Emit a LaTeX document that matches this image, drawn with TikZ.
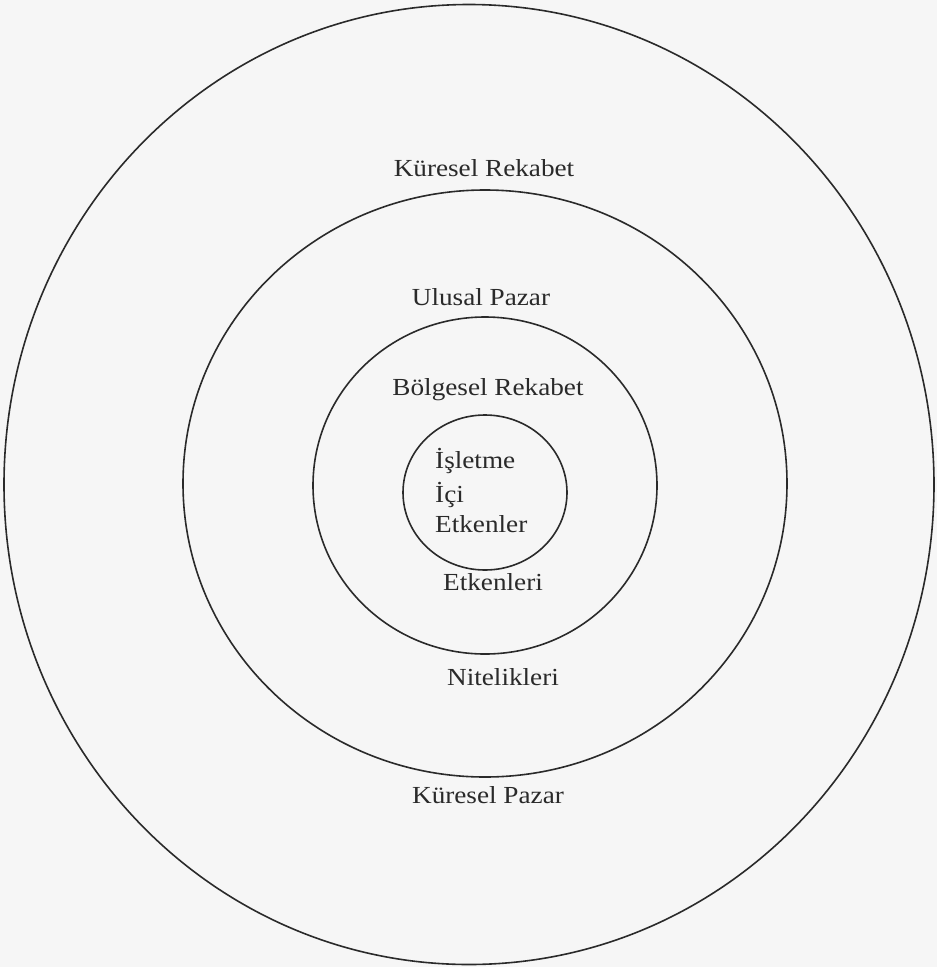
\documentclass[tikz,border=0pt]{standalone}
\usepackage{fontspec}
\setmainfont{Liberation Serif}[FakeStretch=1.11]
\definecolor{ink}{HTML}{2A2A2A}
\definecolor{paper}{HTML}{F6F6F6}
\begin{document}
\begin{tikzpicture}[x=1pt,y=-1pt,
  ring/.style={draw=ink,line width=1.6pt},
  lbl/.style={text=ink,inner sep=0pt,anchor=base,font=\fontsize{24.5}{28}\selectfont},
  lbll/.style={lbl,anchor=base west}]
\fill[paper] (0,0) rectangle (937,967);
\useasboundingbox (0,0) rectangle (937,967);
% rings
\draw[ring] (469,484.5) ellipse [x radius=465pt, y radius=480pt];
\draw[ring] (485,483.5) ellipse [x radius=302pt, y radius=293.5pt];
\draw[ring] (485,485.5) ellipse [x radius=172pt, y radius=168.5pt];
\draw[ring] (485,492.5) ellipse [x radius=82pt, y radius=77.5pt];
% labels
\node[lbl] (kr) at (484,176) {Küresel Rekabet};
\node[lbl] (up) at (481,305) {Ulusal Pazar};
\node[lbl] (br) at (488,395) {Bölgesel Rekabet};
\node[lbll] (is) at (435,468) {İşletme};
\node[lbll] (ic) at (435,502) {İçi};
\node[lbll] (et) at (435,532) {Etkenler};
\node[lbl] (ek) at (493,590) {Etkenleri};
\node[lbl] (ni) at (503,685) {Nitelikleri};
\node[lbl] (kp) at (488,803) {Küresel Pazar};
\end{tikzpicture}
\end{document}
